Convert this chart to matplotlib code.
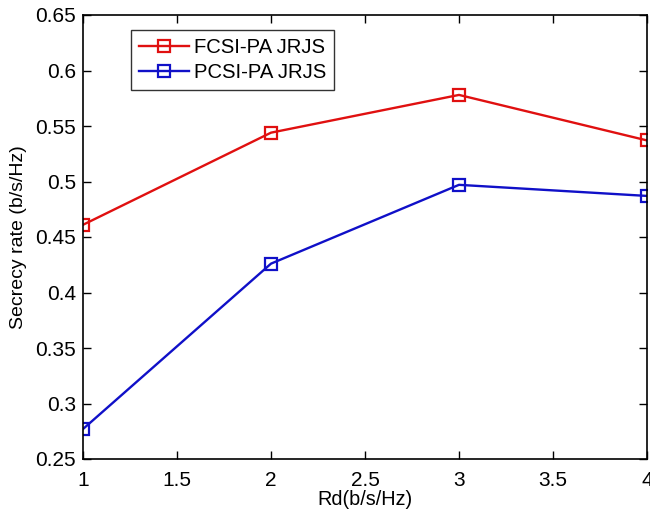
import matplotlib
matplotlib.use("Agg")
import matplotlib.pyplot as plt

rd = [1, 2, 3, 4]
fcsi = [0.461, 0.544, 0.578, 0.537]
pcsi = [0.277, 0.426, 0.497, 0.487]
labels = ["FCSI-PA JRJS", "PCSI-PA JRJS"]
xticks = [1, 1.5, 2, 2.5, 3, 3.5, 4]
xticklabels = ['1', '1.5', '2', '2.5', '3', '3.5', '4']
yticks = [0.25, 0.3, 0.35, 0.4, 0.45, 0.5, 0.55, 0.6, 0.65]
yticklabels = ['0.25', '0.3', '0.35', '0.4', '0.45', '0.5', '0.55', '0.6', '0.65']

plt.rcParams['font.family'] = ['Liberation Sans', 'DejaVu Sans']

fig = plt.figure(figsize=(6.5, 5.15), dpi=100)
ax = fig.add_axes([83/650, 56/515, 564/650, 444/515])

ax.plot(rd, fcsi, color='#e01010', marker='s', markersize=9, markerfacecolor='none',
        markeredgewidth=1.6, linewidth=1.7, label=labels[0])
ax.plot(rd, pcsi, color='#1010c8', marker='s', markersize=9, markerfacecolor='none',
        markeredgewidth=1.6, linewidth=1.7, label=labels[1])

ax.set_xlim(1, 4)
ax.set_ylim(0.25, 0.65)
ax.set_xticks(xticks)
ax.set_xticklabels(xticklabels)
ax.set_yticks(yticks)
ax.set_yticklabels(yticklabels)
ax.tick_params(direction='in', top=True, right=True, labelsize=15, length=6, width=1)
ax.tick_params(axis='x', pad=8.5)
ax.tick_params(axis='y', pad=5)
for s in ax.spines.values():
    s.set_linewidth(1.2)

ax.set_xlabel('Rd(b/s/Hz)', fontsize=14.3, labelpad=0)
ax.set_ylabel('Secrecy rate (b/s/Hz)', fontsize=14, labelpad=6)

leg = ax.legend(loc='upper left', bbox_to_anchor=(0.085, 0.967), fontsize=14.6,
                frameon=True, fancybox=False, edgecolor='black', handlelength=2.45,
                borderpad=0.4, labelspacing=0.3, handletextpad=0.25, borderaxespad=0)
leg.get_frame().set_linewidth(1.0)

fig.savefig('out.png', dpi=100)
